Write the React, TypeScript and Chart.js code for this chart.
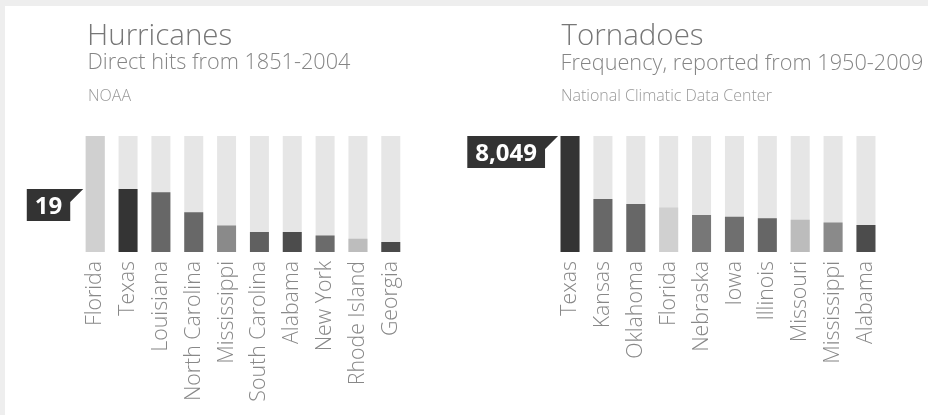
import React, { useEffect, useRef } from 'react';
import { Chart, registerables } from 'chart.js';

Chart.register(...registerables);

// ---------- data ----------
const HURRICANE_TITLE = 'Hurricanes';
const HURRICANE_SUBTITLE = 'Direct hits from 1851-2004';
const HURRICANE_SOURCE = 'NOAA';
const HURRICANE_STATES = [
  'Florida', 'Texas', 'Louisiana', 'North Carolina', 'Mississippi',
  'South Carolina', 'Alabama', 'New York', 'Rhode Island', 'Georgia',
];
const HURRICANE_HITS = [35, 19, 18, 12, 8, 6, 6, 5, 4, 3];
const HURRICANE_HIGHLIGHT = 'Texas';

const TORNADO_TITLE = 'Tornadoes';
const TORNADO_SUBTITLE = 'Frequency, reported from 1950-2009';
const TORNADO_SOURCE = 'National Climatic Data Center';
const TORNADO_STATES = [
  'Texas', 'Kansas', 'Oklahoma', 'Florida', 'Nebraska',
  'Iowa', 'Illinois', 'Missouri', 'Mississippi', 'Alabama',
];
const TORNADO_COUNTS = [8049, 3680, 3330, 3080, 2570, 2450, 2340, 2240, 2040, 1870];
const TORNADO_HIGHLIGHT = 'Texas';

// ---------- styles ----------
const STATE_SHADES: Record<string, string> = {
  Florida: '#d0d0d0',
  Texas: '#343434',
  Louisiana: '#676767',
  'North Carolina': '#686868',
  Mississippi: '#8a8a8a',
  'South Carolina': '#606060',
  Alabama: '#4c4c4c',
  'New York': '#6b6b6b',
  'Rhode Island': '#bdbdbd',
  Georgia: '#4a4a4a',
  Kansas: '#686868',
  Oklahoma: '#676767',
  Nebraska: '#777777',
  Iowa: '#6f6f6f',
  Illinois: '#666666',
  Missouri: '#bcbcbc',
};
const TRACK_COLOR = '#e6e6e6';
const FONT = '"Open Sans", "DejaVu Sans", sans-serif';

const trackPlugin = {
  id: 'tracks',
  beforeDatasetsDraw(chart: any, _args: any, opts: any) {
    const { ctx, chartArea } = chart;
    const meta = chart.getDatasetMeta(0);
    ctx.save();
    ctx.fillStyle = opts.color;
    meta.data.forEach((el: any) => {
      const { x, width } = el.getProps(['x', 'width'], true);
      ctx.fillRect(x - width / 2, chartArea.top, width, chartArea.bottom - chartArea.top);
    });
    ctx.restore();
  },
};

const flagPlugin = {
  id: 'flag',
  afterDatasetsDraw(chart: any, _args: any, opts: any) {
    const { ctx } = chart;
    const labels = chart.data.labels as string[];
    const idx = labels.indexOf(opts.state);
    if (idx < 0) return;
    const value = chart.data.datasets[0].data[idx] as number;
    const first = chart.getDatasetMeta(0).data[0];
    const { x, width } = first.getProps(['x', 'width'], true);
    const tip = x - width / 2 - opts.gap;
    const top = chart.scales.y.getPixelForValue(value);
    const text = value.toLocaleString('en-US');
    ctx.save();
    ctx.font = `bold 24px ${FONT}`;
    const tw = ctx.measureText(text).width;
    const rectRight = tip - opts.notch;
    const rectLeft = rectRight - tw - opts.padX * 2;
    const h = opts.height;
    ctx.fillStyle = opts.color;
    ctx.beginPath();
    ctx.moveTo(rectLeft, top);
    ctx.lineTo(tip, top);
    ctx.lineTo(rectRight, top + opts.notch);
    ctx.lineTo(rectRight, top + h);
    ctx.lineTo(rectLeft, top + h);
    ctx.closePath();
    ctx.fill();
    ctx.fillStyle = '#ffffff';
    ctx.textBaseline = 'alphabetic';
    ctx.textAlign = 'left';
    ctx.fillText(text, rectLeft + opts.padX, top + 25);
    ctx.restore();
  },
};

const headerPlugin = {
  id: 'header',
  afterDraw(chart: any, _args: any, opts: any) {
    const { ctx } = chart;
    ctx.save();
    ctx.textAlign = 'left';
    ctx.textBaseline = 'alphabetic';
    ctx.fillStyle = '#777777';
    ctx.font = `300 29.5px ${FONT}`;
    ctx.fillText(opts.title, opts.titleX, opts.titleY);
    ctx.fillStyle = '#858585';
    ctx.font = `300 21.7px ${FONT}`;
    ctx.fillText(opts.subtitle, opts.subX, opts.subY);
    ctx.fillStyle = '#999999';
    ctx.font = `300 16px ${FONT}`;
    ctx.fillText(opts.source, opts.srcX, opts.srcY);
    ctx.restore();
  },
};

type PanelProps = {
  left: number;
  states: string[];
  values: number[];
  highlight: string;
  title: string;
  subtitle: string;
  source: string;
  padLeft: number;
  padRight: number;
  titleX: number;
  subX: number;
  subY: number;
  srcX: number;
};

const W = 464;
const H = 415;

function Panel(p: PanelProps) {
  const ref = useRef<HTMLCanvasElement>(null);
  useEffect(() => {
    if (!ref.current) return;
    const chart = new Chart(ref.current, {
      type: 'bar',
      data: {
        labels: p.states,
        datasets: [
          {
            data: p.values,
            backgroundColor: p.states.map((s) => STATE_SHADES[s]),
            borderWidth: 0,
            barPercentage: 0.578,
            categoryPercentage: 1,
          },
        ],
      },
      options: {
        responsive: false,
        animation: false,
        devicePixelRatio: 1,
        events: [],
        layout: { padding: { left: p.padLeft, right: p.padRight, top: 136, bottom: 13 } },
        scales: {
          x: {
            grid: { display: false, drawTicks: false },
            border: { display: false },
            ticks: {
              color: '#888888',
              font: { family: FONT, size: 21.3, weight: '300' as any },
              padding: 9,
              maxRotation: 90,
              minRotation: 90,
              autoSkip: false,
            },
            afterFit: (s: any) => {
              s.height = 150;
            },
          },
          y: { display: false, min: 0, max: Math.max(...p.values) },
        },
        plugins: {
          legend: { display: false },
          tooltip: { enabled: false },
          title: { display: false },
          tracks: { color: TRACK_COLOR },
          flag: { state: p.highlight, color: '#333333', gap: 2.5, notch: 13, padX: 8, height: 32 },
          header: {
            title: p.title,
            subtitle: p.subtitle,
            source: p.source,
            titleX: p.titleX,
            titleY: 45,
            subX: p.subX,
            subY: p.subY,
            srcX: p.srcX,
            srcY: 101,
          },
        } as any,
      },
      plugins: [trackPlugin, flagPlugin, headerPlugin],
    });
    return () => chart.destroy();
  }, []);
  return (
    <canvas
      ref={ref}
      width={W}
      height={H}
      style={{ position: 'absolute', left: p.left, top: 0, width: W, height: H }}
    />
  );
}

export default function App() {
  return (
    <div
      style={{
        position: 'fixed',
        left: 0,
        top: 0,
        width: 928,
        height: 415,
        background: '#eeeeee',
        overflow: 'hidden',
      }}
    >
      <div style={{ position: 'absolute', left: 5, top: 6, right: 0, bottom: 0, background: '#ffffff' }} />
      <Panel
        left={0}
        states={HURRICANE_STATES}
        values={HURRICANE_HITS}
        highlight={HURRICANE_HIGHLIGHT}
        title={HURRICANE_TITLE}
        subtitle={HURRICANE_SUBTITLE}
        source={HURRICANE_SOURCE}
        padLeft={78.8}
        padRight={56.8}
        titleX={87}
        subX={87.5}
        subY={69}
        srcX={88}
      />
      <Panel
        left={464}
        states={TORNADO_STATES}
        values={TORNADO_COUNTS}
        highlight={TORNADO_HIGHLIGHT}
        title={TORNADO_TITLE}
        subtitle={TORNADO_SUBTITLE}
        source={TORNADO_SOURCE}
        padLeft={89.6}
        padRight={45.6}
        titleX={97.5}
        subX={96.5}
        subY={70}
        srcX={97}
      />
    </div>
  );
}
